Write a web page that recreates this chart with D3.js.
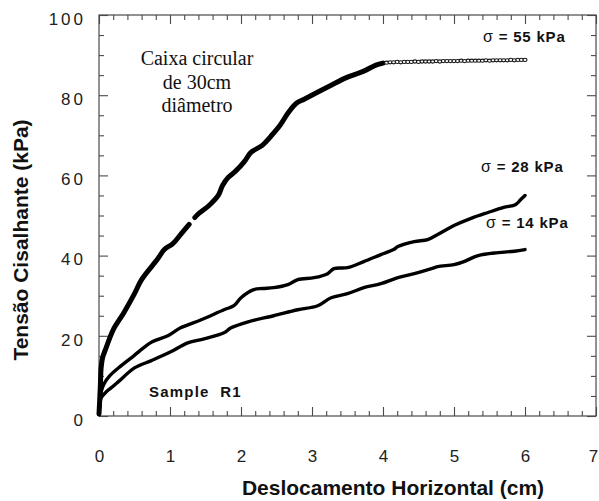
<!DOCTYPE html>
<html>
<head>
<meta charset="utf-8">
<script src="https://cdn.jsdelivr.net/npm/d3@7"></script>
<style>
  html, body { margin: 0; padding: 0; background: #fff; }
  svg { display: block; }
</style>
</head>
<body>
<svg id="chart" width="599" height="501"></svg>
<script>
// Shear stress vs horizontal displacement, circular 30 cm box, sample R1

// axis ticks
const xMajor = [0, 1, 2, 3, 4, 5, 6, 7];
const yMajor = [0, 20, 40, 60, 80, 100];

// σ = 55 kPa, continuous trace (null marks the break in the record)
const x55 = [0, 0.01, 0.02, 0.03, 0.05, 0.1, 0.2, 0.35, 0.5, 0.6, 0.82, 0.92, 1.04, 1.16, 1.27,
             null,
             1.35, 1.39, 1.55, 1.68, 1.74, 1.82, 1.92, 2.05, 2.14, 2.3, 2.42, 2.55, 2.66, 2.78,
             2.89, 3.05, 3.27, 3.5, 3.73, 3.9, 4.0];
const y55 = [0.5, 4, 8, 12, 14.5, 17, 21.5, 25.75, 30.5, 34, 39, 41.5, 43, 45.5, 47.8,
             null,
             49.5, 50.25, 52.5, 55, 57.5, 59.5, 61, 63.5, 65.75, 67.5, 69.75, 72.5, 75.5, 78,
             79, 80.5, 82.5, 84.5, 86, 87.5, 88];

// σ = 55 kPa, residual plateau readings
const x55res = [4.05, 4.1, 4.15, 4.2, 4.25, 4.3, 4.35, 4.4, 4.45, 4.5,
                4.55, 4.6, 4.65, 4.7, 4.75, 4.8, 4.85, 4.9, 4.95, 5.0,
                5.05, 5.1, 5.15, 5.2, 5.25, 5.3, 5.35, 5.4, 5.45, 5.5,
                5.55, 5.6, 5.65, 5.7, 5.75, 5.8, 5.85, 5.9, 5.95, 6.0];
const y55res = [88.1, 88.2, 88.2, 88.3, 88.2, 88.3, 88.3, 88.3, 88.4, 88.3,
                88.4, 88.4, 88.4, 88.4, 88.5, 88.4, 88.5, 88.5, 88.5, 88.5,
                88.5, 88.6, 88.5, 88.6, 88.6, 88.6, 88.6, 88.6, 88.7, 88.6,
                88.7, 88.7, 88.7, 88.7, 88.7, 88.8, 88.7, 88.8, 88.8, 88.8];

// σ = 28 kPa
const x28 = [0, 0.01, 0.03, 0.07, 0.15, 0.31, 0.49, 0.59, 0.75, 0.97, 1.15, 1.44, 1.76, 1.9,
             2.0, 2.18, 2.3, 2.46, 2.66, 2.8, 3.03, 3.22, 3.31, 3.5, 3.73, 3.97, 4.15, 4.21,
             4.44, 4.63, 4.77, 5.0, 5.24, 5.48, 5.7, 5.87, 5.94, 6.0];
const y28 = [0.5, 3, 6, 8, 10, 12.5, 15, 16.5, 18.5, 20, 22, 24, 26.5, 27.5,
             29.5, 31.5, 31.8, 32, 32.75, 34, 34.5, 35.5, 36.75, 37, 38.5, 40.25, 41.5, 42.25,
             43.5, 44, 45.25, 47.5, 49.3, 50.75, 52, 52.75, 54, 55];

// σ = 14 kPa
const x14 = [0, 0.01, 0.03, 0.1, 0.17, 0.27, 0.5, 0.73, 1.01, 1.25, 1.48, 1.76, 1.86, 2.1,
             2.46, 2.8, 3.08, 3.27, 3.5, 3.73, 3.97, 4.21, 4.44, 4.68, 4.77, 5.0, 5.14, 5.34,
             5.62, 5.85, 6.0];
const y14 = [0.5, 2.5, 4.5, 6, 7, 8.5, 12, 13.75, 16, 18.25, 19.25, 20.75, 22, 23.5,
             25, 26.5, 27.5, 29.5, 30.5, 32, 33, 34.5, 35.5, 36.75, 37.25, 37.75, 38.5, 40,
             40.75, 41.1, 41.5];

const svg = d3.select("#chart");
const margin = { left: 99, right: 3, top: 15, bottom: 85 };
const W = 599 - margin.left - margin.right;
const H = 501 - margin.top - margin.bottom;

const x = d3.scaleLinear().domain([0, 7]).range([0, W]);
const y = d3.scaleLinear().domain([0, 100]).range([H, 0]);

const g = svg.append("g").attr("transform", `translate(${margin.left},${margin.top})`);

const xMinor = d3.range(0, 7.001, 0.2).map(v => +v.toFixed(1)).filter(v => !xMajor.includes(v));
const yMinor = d3.range(0, 100.1, 5).filter(v => !yMajor.includes(v));

const axisColor = "#4a4a4a";
const tickFont = "'Liberation Sans', Arial, Helvetica, sans-serif";

function styleAxis(sel) {
  sel.select(".domain").remove();
  sel.selectAll(".tick line").attr("stroke", axisColor).attr("stroke-width", 1.1);
}

// inward-pointing ticks on all four sides
g.append("g").attr("transform", `translate(0,${H})`)
  .call(d3.axisBottom(x).tickValues(xMajor).tickSizeInner(-9).tickSizeOuter(0).tickPadding(34)
    .tickFormat(d3.format("d")))
  .call(styleAxis)
  .call(s => s.selectAll("text")
    .attr("font-family", tickFont).attr("font-size", 17).attr("fill", "#222")
    .attr("dx", d => d === 7 ? -3 : 0));
g.append("g").attr("transform", `translate(0,${H})`)
  .call(d3.axisBottom(x).tickValues(xMinor).tickSize(-5).tickFormat(""))
  .call(styleAxis);

g.append("g")
  .call(d3.axisTop(x).tickValues(xMajor).tickSize(-9).tickFormat(""))
  .call(styleAxis);
g.append("g")
  .call(d3.axisTop(x).tickValues(xMinor).tickSize(-5).tickFormat(""))
  .call(styleAxis);

g.append("g")
  .call(d3.axisLeft(y).tickValues(yMajor).tickSizeInner(-9).tickSizeOuter(0).tickPadding(13)
    .tickFormat(d3.format("d")))
  .call(styleAxis)
  .call(s => s.selectAll("text")
    .attr("font-family", tickFont).attr("font-size", 17).attr("fill", "#222")
    .style("letter-spacing", "3px").attr("dy", "0.55em"));
g.append("g")
  .call(d3.axisLeft(y).tickValues(yMinor).tickSize(-5).tickFormat(""))
  .call(styleAxis);

g.append("g").attr("transform", `translate(${W},0)`)
  .call(d3.axisRight(y).tickValues(yMajor).tickSize(-9).tickFormat(""))
  .call(styleAxis);
g.append("g").attr("transform", `translate(${W},0)`)
  .call(d3.axisRight(y).tickValues(yMinor).tickSize(-5).tickFormat(""))
  .call(styleAxis);

// frame
g.append("rect")
  .attr("x", 0).attr("y", 0).attr("width", W).attr("height", H)
  .attr("fill", "none").attr("stroke", axisColor).attr("stroke-width", 1.2);

// curves
const line = d3.line()
  .defined(d => d[0] !== null && d[1] !== null)
  .curve(d3.curveCatmullRom.alpha(0.5))
  .x(d => x(d[0])).y(d => y(d[1]));

function drawCurve(xs, ys, width) {
  g.append("path")
    .datum(d3.zip(xs, ys))
    .attr("d", line)
    .attr("fill", "none")
    .attr("stroke", "#000")
    .attr("stroke-width", width)
    .attr("stroke-linejoin", "round")
    .attr("stroke-linecap", "round");
}

drawCurve(x14, y14, 3.4);
drawCurve(x28, y28, 3.4);
drawCurve(x55, y55, 5);

// plateau readings as small open markers
g.append("g").selectAll("ellipse")
  .data(d3.zip(x55res, y55res))
  .join("ellipse")
  .attr("cx", d => x(d[0]))
  .attr("cy", d => y(d[1]))
  .attr("rx", 2).attr("ry", 1.6)
  .attr("fill", "#fff")
  .attr("stroke", "#111")
  .attr("stroke-width", 1.1);

// annotations
const boldFont = "'Liberation Sans', Arial, Helvetica, sans-serif";

function sigmaLabel(px, py, value) {
  const t = svg.append("text")
    .attr("x", px).attr("y", py)
    .attr("font-family", boldFont).attr("font-size", 15).attr("fill", "#111")
    .style("letter-spacing", "0.8px");
  t.append("tspan").attr("font-weight", "normal").attr("font-size", 16).text("σ");
  t.append("tspan").attr("font-weight", "bold").text(` = ${value} kPa`);
}
sigmaLabel(483, 42, 55);
sigmaLabel(481, 172, 28);
sigmaLabel(486, 228, 14);

svg.append("text")
  .attr("x", 149).attr("y", 397)
  .attr("font-family", boldFont).attr("font-size", 15).attr("font-weight", "bold")
  .attr("fill", "#111").style("letter-spacing", "1.2px")
  .attr("xml:space", "preserve")
  .text("Sample  R1");

const boxNote = ["Caixa circular", "de 30cm", "diâmetro"];
svg.append("g").selectAll("text")
  .data(boxNote)
  .join("text")
  .attr("x", 197)
  .attr("y", (d, i) => 65 + i * 23.5)
  .attr("text-anchor", "middle")
  .attr("font-family", "'Liberation Serif', 'Times New Roman', serif")
  .attr("font-size", 20)
  .attr("fill", "#111")
  .text(d => d);

// axis titles
svg.append("text")
  .attr("x", 393).attr("y", 495)
  .attr("text-anchor", "middle")
  .attr("font-family", boldFont).attr("font-size", 21).attr("font-weight", "bold")
  .attr("fill", "#111")
  .text("Deslocamento Horizontal (cm)");

svg.append("text")
  .attr("transform", "translate(28,240) rotate(-90)")
  .attr("text-anchor", "middle")
  .attr("font-family", boldFont).attr("font-size", 21).attr("font-weight", "bold")
  .attr("fill", "#111")
  .text("Tensão Cisalhante (kPa)");
</script>
</body>
</html>
